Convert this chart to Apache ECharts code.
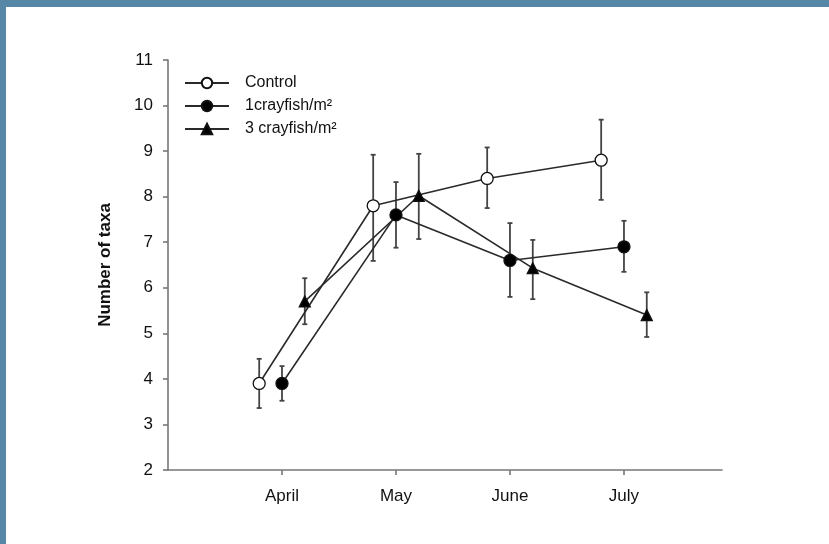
<!DOCTYPE html>
<html>
<head>
<meta charset="utf-8">
<script src="https://cdn.jsdelivr.net/npm/echarts@6/dist/echarts.min.js"></script>
<style>
html,body{margin:0;padding:0;background:#fff;}
#c{position:absolute;left:0;top:0;width:829px;height:544px;}
</style>
</head>
<body>
<div id="c"></div>
<script>
// ---- data ----
var months = ['April', 'May', 'June', 'July'];
var seriesNames = ['Control', '1crayfish/m²', '3 crayfish/m²'];
var controlMean = [3.9, 7.8, 8.4, 8.8];
var controlHigh = [4.44, 8.92, 9.08, 9.69];
var controlLow  = [3.36, 6.59, 7.75, 7.93];
var c1Mean = [3.9, 7.6, 6.6, 6.9];
var c1High = [4.28, 8.32, 7.42, 7.47];
var c1Low  = [3.52, 6.88, 5.8, 6.35];
var c3Mean = [5.7, 8.02, 6.43, 5.4];
var c3High = [6.21, 8.94, 7.05, 5.9];
var c3Low  = [5.2, 7.07, 5.75, 4.92];
var offsets = [-0.2, 0, 0.2];
var yTicks = [2, 3, 4, 5, 6, 7, 8, 9, 10, 11];

var groups = [
  {name: seriesNames[0], mean: controlMean, hi: controlHigh, lo: controlLow, symbol: 'circle', fill: '#fff', size: 12},
  {name: seriesNames[1], mean: c1Mean, hi: c1High, lo: c1Low, symbol: 'circle', fill: '#000', size: 12},
  {name: seriesNames[2], mean: c3Mean, hi: c3High, lo: c3Low, symbol: 'triangle', fill: '#000', size: 11}
];

var FONT = 'Liberation Sans, Arial, sans-serif';
var series = [];
groups.forEach(function (g, gi) {
  var pts = g.mean.map(function (v, i) { return [i + 1 + offsets[gi], v]; });
  var bars = g.mean.map(function (v, i) { return [i + 1 + offsets[gi], g.lo[i], g.hi[i]]; });
  series.push({
    type: 'custom',
    name: g.name + ' err',
    data: bars,
    z: 1,
    silent: true,
    renderItem: function (params, api) {
      var x = api.value(0);
      var lo = api.coord([x, api.value(1)]);
      var hi = api.coord([x, api.value(2)]);
      var cw = 2.5;
      var st = {stroke: '#444', lineWidth: 1.8};
      return {
        type: 'group',
        children: [
          {type: 'line', shape: {x1: hi[0], y1: hi[1], x2: lo[0], y2: lo[1]}, style: st},
          {type: 'line', shape: {x1: hi[0] - cw, y1: hi[1], x2: hi[0] + cw, y2: hi[1]}, style: st},
          {type: 'line', shape: {x1: lo[0] - cw, y1: lo[1], x2: lo[0] + cw, y2: lo[1]}, style: st}
        ]
      };
    }
  });
  series.push({
    type: 'line',
    name: g.name,
    data: pts,
    z: 3,
    symbol: g.symbol,
    symbolSize: g.size,
    showAllSymbol: true,
    lineStyle: {color: '#2a2a2a', width: 1.6},
    itemStyle: {color: g.fill, borderColor: '#111', borderWidth: 1.3, opacity: 1},
    emphasis: {disabled: true}
  });
});

var chart = echarts.init(document.getElementById('c'), null, {renderer: 'canvas'});
chart.setOption({
  animation: false,
  backgroundColor: '#fff',
  textStyle: {fontFamily: FONT},
  grid: {left: 168, right: 107, top: 60, bottom: 74, containLabel: false},
  legend: {
    data: seriesNames,
    orient: 'vertical',
    left: 179,
    top: 70,
    itemWidth: 44,
    itemHeight: 13,
    itemGap: 7,
    textStyle: {fontSize: 16, color: '#111', padding: [0, 0, 0, 11], fontFamily: FONT}
  },
  xAxis: {
    type: 'value',
    min: 0,
    max: 4.86,
    splitLine: {show: false},
    axisLine: {lineStyle: {color: '#777', width: 1.6}},
    axisTick: {show: true, length: 5, customValues: [1, 2, 3, 4], lineStyle: {color: '#777', width: 1.6}},
    axisLabel: {
      customValues: [1, 2, 3, 4],
      margin: 18,
      fontSize: 17,
      color: '#111',
      formatter: function (v) { return months[Math.round(v) - 1] || ''; }
    }
  },
  yAxis: {
    type: 'value',
    min: yTicks[0],
    max: yTicks[yTicks.length - 1],
    interval: 1,
    name: 'Number of taxa',
    nameLocation: 'middle',
    nameGap: 54,
    nameRotate: 90,
    nameTextStyle: {fontSize: 17, fontWeight: 'bold', color: '#111'},
    splitLine: {show: false},
    axisLine: {show: true, lineStyle: {color: '#777', width: 1.6}},
    axisTick: {show: true, length: 5, lineStyle: {color: '#777', width: 1.6}},
    axisLabel: {margin: 15, fontSize: 17, color: '#111'}
  },
  graphic: [
    {type: 'rect', left: 0, top: 0, shape: {width: 829, height: 7}, style: {fill: '#5787a6'}, z: 100},
    {type: 'rect', left: 0, top: 0, shape: {width: 6, height: 544}, style: {fill: '#5787a6'}, z: 100}
  ],
  series: series
});
</script>
</body>
</html>
